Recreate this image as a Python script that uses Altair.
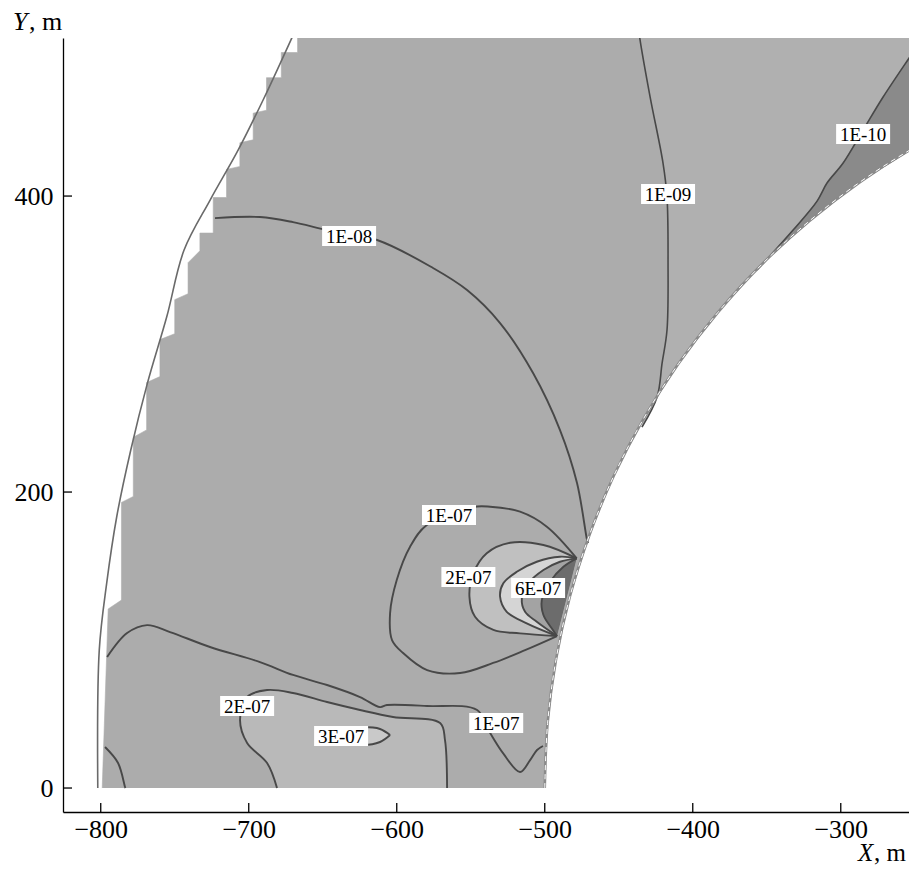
import altair as alt
import pandas as pd

# ---------------- data (metres) ----------------
x_ticks = [-800, -700, -600, -500, -400, -300]
y_ticks = [0, 200, 400]

# inner boundary (r = 500 m)
inner_x = [-500.0, -498.1, -492.4, -483.0, -469.8, -453.2, -433.0, -409.6, -383.0, -353.6, -321.4, -286.8, -250.0, -211.3, -171.0]
inner_y = [0.0, 43.6, 86.8, 129.4, 171.0, 211.3, 250.0, 286.8, 321.4, 353.6, 383.0, 409.6, 433.0, 453.2, 469.8]

# outer boundary line
outer_x = [-802, -801, -796, -789.2, -779.7, -768.5, -755.4, -743.7, -726.1, -707.2, -690.3, -671, -665]
outer_y = [0, 93.2, 138.3, 183.3, 228.4, 273.4, 318.4, 363.5, 397.3, 431, 464.9, 506.6, 520]

# stepped left edge of the computed field
stair_x = [-799, -797, -795, -795, -786, -786, -778, -778, -769, -769, -760, -760, -750, -750, -741, -741,
           -733, -733, -724, -724, -715, -715, -706, -706, -697, -697, -688, -688, -678, -678, -667, -667]
stair_y = [0, 60, 120, 121, 127, 193, 197, 237, 242, 274, 278, 303, 307, 330, 334, 355,
           363, 375, 375, 399, 399, 418, 420, 436, 438, 456, 458, 480, 480, 497, 497, 520]

# contour 1E-08
c08_x = [-722.8, -692.4, -670.1, -647.1, -613.3, -575.5, -552.5, -530.2, -507.9, -489.7, -478.2, -471.4, -470.7]
c08_y = [385.1, 385.8, 382.4, 377.0, 370.3, 351.4, 336.5, 314.2, 280.4, 241.9, 206.1, 167.6, 165.5]

# contour 1E-09
c09_x = [-436.5, -435.6, -428.8, -420.1, -417.4, -416.7, -417.4, -420.7, -424.1, -434.3]
c09_y = [512, 505.4, 466.9, 422.3, 399.3, 354.7, 309.5, 287.2, 264.2, 243.9]

# contour 1E-10
c10_x = [-231, -251.1, -271.4, -284.9, -298.4, -309.3, -316.0, -332.2, -356.6]
c10_y = [527, 497.3, 466.9, 444.6, 422.3, 408.8, 396.6, 377.0, 350.0]

# contour 1E-07 around the source
c07u_x = [-478.4, -498.6, -516.7, -536.9, -548.4, -579.7, -591.0, -600.0, -604.5, -603.2, -595.7, -579.5, -557.2, -534.9, -513.3, -491.7]
c07u_y = [155.2, 176.6, 186.7, 190.1, 189.9, 177.7, 163.0, 140.5, 118.2, 100.0, 91.2, 79.7, 77.7, 84.5, 93.2, 102.7]

# nested contours near the source (2E-07 ... 6E-07)
n1_x = [-478.4, -500.9, -523.4, -539.2, -548.2, -550.9, -547.1, -534.7, -516.7, -491.7]
n1_y = [155.2, 164.2, 165.7, 158.6, 145.1, 129.3, 115.7, 106.8, 104.5, 102.7]
n2_x = [-478.4, -489.7, -505.4, -518.9, -528.0, -530.2, -525.7, -512.2, -491.7]
n2_y = [155.2, 156.3, 152.9, 146.1, 138.3, 129.3, 119.1, 111.3, 102.7]
n3_x = [-478.4, -489.7, -500.9, -511.1, -515.5, -513.3, -505.4, -491.7]
n3_y = [155.2, 152.9, 147.3, 138.3, 128.2, 119.1, 112.4, 102.7]
n4_x = [-478.4, -487.4, -496.4, -502.0, -500.9, -495.3, -491.7]
n4_y = [155.2, 149.5, 139.4, 127.0, 116.9, 107.9, 102.7]

# lower contour 1E-07
c07l_x = [-795.7, -782.2, -768.7, -753.2, -726.2, -692.4, -670.1, -647.1, -624.8, -611.3, -606.6, -579.5,
          -545.7, -536.9, -528.2, -516.7, -509.9, -505.2, -501.2]
c07l_y = [88.5, 104.7, 110.1, 105.4, 95.3, 85.1, 76.4, 69.6, 61.5, 54.7, 56.1, 55.4,
          52.7, 37.2, 23.6, 10.8, 18.9, 25.7, 28.4]

# small contour in the lower-left corner
cA_x = [-797.1, -788.3, -783.6, -783.3]
cA_y = [27.7, 16.9, 0.7, 0]

# lower contour 2E-07
c2l_x = [-680.9, -687.6, -701.1, -705.9, -701.1, -687.6, -670.1, -647.1, -624.8, -602.5, -570.7, -567.4, -566.0]
c2l_y = [0, 16.9, 30.4, 45.9, 61.5, 66.2, 64.2, 58.1, 52.7, 48.0, 43.9, 32.4, 0]

# contour 3E-07
c3_x = [-604.5, -611.3, -622.8, -631.6, -637.0, -631.6, -622.8, -611.3, -604.5]
c3_y = [35.8, 39.9, 41.2, 40.2, 35.5, 30.8, 29.1, 31.1, 35.8]

# contour labels
lab_text = ["1E-08", "1E-09", "1E-10", "1E-07", "2E-07", "6E-07", "2E-07", "3E-07", "1E-07"]
lab_x = [-632.2, -416.7, -284.9, -564.7, -551.6, -504.5, -701.1, -637.6, -532.8]
lab_y = [373.0, 401.4, 441.9, 184.5, 142.6, 135.1, 55.4, 35.1, 43.9]

# ---------------- chart ----------------
W, H = 846, 774
SERIF = "Liberation Serif"
xs = alt.Scale(domain=[-825.5, -253.9], nice=False, zero=False)
ys = alt.Scale(domain=[-16.2, 506.8], nice=False, zero=False)
x_axis = alt.Axis(values=x_ticks, title=None, grid=False, ticks=False, domainColor="black",
                  domainWidth=1.3, labelFont=SERIF, labelFontSize=26, labelColor="black",
                  labelPadding=4, labelFlush=False)
y_axis = alt.Axis(values=y_ticks, title=None, grid=False, ticks=False, domainColor="black",
                  domainWidth=1.3, labelFont=SERIF, labelFontSize=26, labelColor="black",
                  labelPadding=10, labelFlush=False)


def X(f="x"):
    return alt.X(f"{f}:Q", scale=xs, axis=x_axis)


def Y(f="y"):
    return alt.Y(f"{f}:Q", scale=ys, axis=y_axis)


def frame(xv, yv):
    return pd.DataFrame({"x": xv, "y": yv, "i": list(range(len(xv)))})


def poly(xv, yv, color, interp="linear"):
    return alt.Chart(frame(xv, yv)).mark_line(
        fill=color, stroke=color, strokeWidth=0.6, interpolate=interp, clip=True
    ).encode(x=X(), y=Y(), order="i:Q")


def line(xv, yv, color="#484848", width=1.9, interp="catmull-rom", dash=None):
    kw = dict(color=color, strokeWidth=width, interpolate=interp, clip=True)
    if dash:
        kw["strokeDash"] = dash
    return alt.Chart(frame(xv, yv)).mark_line(**kw).encode(x=X(), y=Y(), order="i:Q")


rev_inner_x = inner_x[::-1]
rev_inner_y = inner_y[::-1]

main_x = stair_x + [-150] + rev_inner_x
main_y = stair_y + [520] + rev_inner_y

sel = [k for k, v in enumerate(inner_y) if v >= 244]
right_x = c09_x + [inner_x[k] for k in sel] + [-150]
right_y = c09_y + [inner_y[k] for k in sel] + [520]

sel10 = [k for k, v in enumerate(inner_y) if v > 350]
dark_x = c10_x + [inner_x[k] for k in sel10] + [-171]
dark_y = c10_y + [inner_y[k] for k in sel10] + [527]

layers = [
    poly(main_x, main_y, "#acacac"),
    poly(right_x, right_y, "#b0b0b0"),
    poly(dark_x, dark_y, "#8a8a8a"),
    poly(n1_x, n1_y, "#c0c0c0", "catmull-rom"),
    poly(n2_x, n2_y, "#d5d5d5", "catmull-rom"),
    poly(n3_x, n3_y, "#a3a3a3", "catmull-rom"),
    poly(n4_x, n4_y, "#6c6c6c", "catmull-rom"),
    poly(c2l_x, c2l_y, "#b9b9b9", "catmull-rom"),
    poly(c3_x, c3_y, "#c9c9c9", "catmull-rom"),
    line(c08_x, c08_y),
    line(c09_x, c09_y, width=1.6),
    line(c10_x, c10_y, width=1.6),
    line(c07u_x, c07u_y),
    line(n1_x, n1_y),
    line(n2_x, n2_y),
    line(n3_x, n3_y),
    line(n4_x, n4_y),
    line(c07l_x, c07l_y),
    line(cA_x, cA_y),
    line(c2l_x, c2l_y),
    line(c3_x, c3_y),
    line(outer_x, outer_y, color="#6a6a6a", width=1.6),
    line(inner_x, inner_y, color="#8a8a8a", width=2.6),
    line(inner_x, inner_y, color="#ffffff", width=1.0, dash=[5, 4]),
]

# tick marks pointing inward
xt = alt.Chart(pd.DataFrame({"v": x_ticks})).mark_rule(color="black", strokeWidth=1.3).encode(
    x=X("v"), y=alt.value(H), y2=alt.value(H - 9))
yt = alt.Chart(pd.DataFrame({"v": y_ticks})).mark_rule(color="black", strokeWidth=1.3).encode(
    y=Y("v"), x=alt.value(0), x2=alt.value(9))
layers += [xt, yt]

labels = pd.DataFrame({"x": lab_x, "y": lab_y, "t": lab_text})
box = alt.Chart(labels).mark_point(
    shape="M-1,-0.37L1,-0.37L1,0.37L-1,0.37Z", size=2916, filled=True, fill="white",
    opacity=1, strokeWidth=0
).encode(x=X(), y=Y())
txt = alt.Chart(labels).mark_text(
    font=SERIF, fontSize=19, color="black", baseline="middle", align="center", dy=1
).encode(x=X(), y=Y(), text="t:N")
layers += [box, txt]

one = pd.DataFrame({"a": [0]})
title_specs = [
    ("X", 795, 823, "italic", 25),
    (", m", 811, 823, "normal", 25),
    ("Y", -50, -8, "italic", 26),
    (", m", -34, -8, "normal", 26),
]
for t, px, py, st, fs in title_specs:
    layers.append(
        alt.Chart(one).mark_text(text=t, font=SERIF, fontSize=fs, fontStyle=st, color="black",
                                 align="left", baseline="alphabetic")
        .encode(x=alt.value(px), y=alt.value(py))
    )

chart = alt.layer(*layers).properties(
    width=W, height=H,
    padding={"left": 55, "top": 30, "right": 0, "bottom": 54},
    autosize=alt.AutoSizeParams(type="none"),
).configure_view(stroke=None)

chart.save("out.html", embed_options={"renderer": "svg", "actions": False})
